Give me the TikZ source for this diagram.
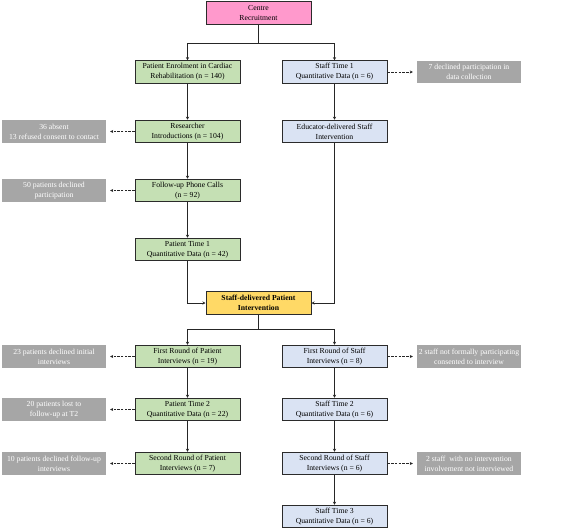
\documentclass[tikz,border=0pt]{standalone}
\usepackage{fontspec}
\setmainfont{Liberation Serif}
\usetikzlibrary{arrows.meta}
\definecolor{pinkc}{HTML}{FF99CC}
\definecolor{greenc}{HTML}{C5E0B4}
\definecolor{bluec}{HTML}{DAE3F3}
\definecolor{yellowc}{HTML}{FFD966}
\definecolor{greyc}{HTML}{A6A6A6}
\definecolor{edgec}{HTML}{2B2B2B}
\tikzset{
  base/.style={draw=edgec, line width=1pt, minimum width=105pt, minimum height=22.5pt, inner sep=0pt, align=center, font=\fontsize{7.7}{10}\selectfont},
  pinkbox/.style={base, fill=pinkc},
  greenbox/.style={base, fill=greenc},
  bluebox/.style={base, fill=bluec},
  yellowbox/.style={base, fill=yellowc, font=\fontsize{7.7}{10}\selectfont\bfseries},
  greybox/.style={fill=greyc, text=white, minimum width=104pt, minimum height=22.5pt, inner sep=0pt, align=center, font=\fontsize{7.7}{10}\selectfont},
  conn/.style={draw=black!85, line width=0.8pt, -{Stealth[length=3pt,width=3pt]}},
  dconn/.style={draw=black!85, line width=0.8pt, dash pattern=on 2.5pt off 1.2pt, -{Stealth[length=3pt,width=3pt]}},
}
\begin{document}
\begin{tikzpicture}[x=1pt,y=-1pt]
\useasboundingbox (0,0) rectangle (567,530);
% nodes
\node[pinkbox] (centre) at (258.5,13) {Centre\\Recruitment};
\node[greenbox] (enrol) at (187.5,72) {Patient Enrolment in Cardiac\\Rehabilitation (n = 140)};
\node[bluebox] (st1) at (334.5,72) {Staff Time 1\\Quantitative Data (n = 6)};
\node[greybox] (g1) at (469,72) {7 declined participation in\\data collection};
\node[greenbox] (res) at (187.5,131.5) {Researcher\\Introductions (n = 104)};
\node[greybox] (g2) at (54,131.5) {36 absent\\13 refused consent to contact};
\node[bluebox] (edu) at (334.5,131.5) {Educator-delivered Staff\\Intervention};
\node[greenbox] (fol) at (187.5,190.5) {Follow-up Phone Calls\\(n = 92)};
\node[greybox] (g3) at (54,190.5) {50 patients declined\\participation};
\node[greenbox] (pt1) at (187.5,249.5) {Patient Time 1\\Quantitative Data (n = 42)};
\node[yellowbox] (sdpi) at (258.5,303) {Staff-delivered Patient\\Intervention};
\node[greenbox] (fr) at (187.5,356.5) {First Round of Patient\\Interviews (n = 19)};
\node[greybox] (g4) at (54,356.5) {23 patients declined initial\\interviews};
\node[bluebox] (fs) at (334.5,356.5) {First Round of Staff\\Interviews (n = 8)};
\node[greybox] (g5) at (469,356.5) {2 staff not formally participating\\consented to interview};
\node[greenbox] (pt2) at (187.5,409.5) {Patient Time 2\\Quantitative Data (n = 22)};
\node[greybox] (g6) at (54,409.5) {20 patients lost to\\follow-up at T2};
\node[bluebox] (st2) at (334.5,409.5) {Staff Time 2\\Quantitative Data (n = 6)};
\node[greenbox] (sr) at (187.5,463.5) {Second Round of Patient\\Interviews (n = 7)};
\node[greybox] (g7) at (54,463.5) {10 patients declined follow-up\\interviews};
\node[bluebox] (ss) at (334.5,463.5) {Second Round of Staff\\Interviews (n = 6)};
\node[greybox] (g8) at (469,463.5) {2 staff~ with no intervention\\involvement not interviewed};
\node[bluebox] (st3) at (334.5,516.5) {Staff Time 3\\Quantitative Data (n = 6)};
% junctions
\coordinate (j1) at (258.5,43);
\coordinate (j2) at (258.5,329);
% connectors
\draw[draw=black!85, line width=0.8pt] (centre.south) -- (j1);
\draw[conn] (j1) -| (enrol.north);
\draw[conn] (j1) -| (st1.north);
\draw[conn] (enrol) -- (res);
\draw[conn] (res) -- (fol);
\draw[conn] (fol) -- (pt1);
\draw[conn] (pt1.south) |- (sdpi.west);
\draw[conn] (st1) -- (edu);
\draw[conn] (edu.south) |- (sdpi.east);
\draw[draw=black!85, line width=0.8pt] (sdpi.south) -- (j2);
\draw[conn] (j2) -| (fr.north);
\draw[conn] (j2) -| (fs.north);
\draw[conn] (fr) -- (pt2);
\draw[conn] (pt2) -- (sr);
\draw[conn] (fs) -- (st2);
\draw[conn] (st2) -- (ss);
\draw[conn] (ss) -- (st3);
% dashed
\draw[dconn] (st1.east) -- ([xshift=-4pt]g1.west);
\draw[dconn] (res.west) -- ([xshift=4pt]g2.east);
\draw[dconn] (fol.west) -- ([xshift=4pt]g3.east);
\draw[dconn] (fr.west) -- ([xshift=4pt]g4.east);
\draw[dconn] (fs.east) -- ([xshift=-4pt]g5.west);
\draw[dconn] (pt2.west) -- ([xshift=4pt]g6.east);
\draw[dconn] (sr.west) -- ([xshift=4pt]g7.east);
\draw[dconn] (ss.east) -- ([xshift=-4pt]g8.west);
\end{tikzpicture}
\end{document}
